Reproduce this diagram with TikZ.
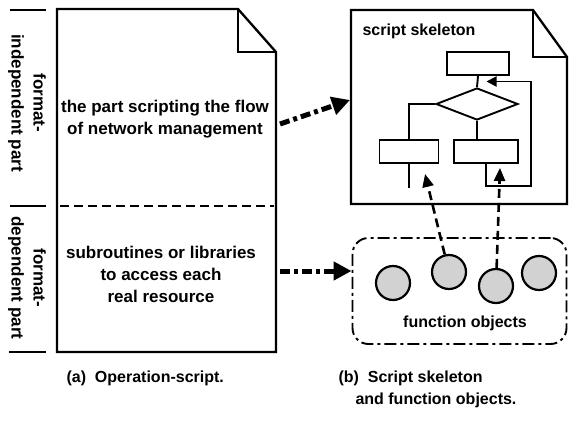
\documentclass[tikz,border=0pt]{standalone}
\usepackage{fontspec}
\setmainfont{Liberation Sans}
\usetikzlibrary{arrows.meta,shapes.geometric,calc}

\begin{document}
\begin{tikzpicture}[x=1pt,y=-1pt,font=\bfseries\fontsize{16}{21}\selectfont,
  bodytxt/.style={align=center,font=\bfseries\fontsize{17}{22}\selectfont},
  docline/.style={line width=2.3pt,line join=miter},
  flowbox/.style={draw,line width=1.9pt,minimum width=62pt,minimum height=23pt,inner sep=0pt},
  flow/.style={line width=1.9pt},
  bigarrow/.style={line width=5pt,dash pattern=on 10pt off 4pt on 4pt off 4pt,-{Triangle[length=18pt,width=18pt]}},
  objarrow/.style={line width=2.6pt,dash pattern=on 9pt off 5pt,-{Triangle[length=13pt,width=11pt]}},
  fobj/.style={circle,draw,line width=2.2pt,fill=gray!35,minimum size=34pt,inner sep=0pt}]
\path[use as bounding box] (0,0) rectangle (570,428);
\draw[line width=2pt] (10,10) -- (46,10);
\draw[line width=2pt] (10,206) -- (46,206);
\draw[line width=2pt] (9,352) -- (46,352);
\node[rotate=-90,bodytxt] (indep) at (27,103) {format-\\independent part};
\node[rotate=-90,bodytxt] (dep) at (27,278) {format-\\dependent part};
\draw[docline] (57,9) -- (238,9) -- (276,52) -- (276,352) -- (57,352) -- cycle;
\draw[docline] (238,9) -- (238,52) -- (276,52);
\draw[line width=2pt,dash pattern=on 9pt off 5pt] (60,206) -- (274,206);
\node[bodytxt] (flowtxt) at (165,119) {the part scripting the flow\\of network management};
\node[bodytxt] (subtxt) at (161,274) {subroutines or libraries\\to access each\\real resource};
\draw[docline] (351,10) -- (533,10) -- (567,57) -- (567,204) -- (351,204) -- cycle;
\draw[docline] (533,10) -- (533,57) -- (567,57);
\node[anchor=west] (sktitle) at (359,31) {script skeleton};
\node[flowbox] (first) at (478,63.5) {};
\node[diamond,draw,line width=1.9pt,aspect=2.6,minimum width=82pt,minimum height=32pt,inner sep=0pt] (cond) at (477,104) {};
\node[flowbox,minimum width=59pt] (lbox) at (409,151.5) {};
\node[flowbox,minimum width=64pt] (rbox) at (486,151.5) {};
\coordinate (join) at ($(first.south)!.5!(cond.north)$);
\coordinate (loopr) at (531,0);
\draw[flow] (first.south) -- (cond.north);
\draw[flow] (cond.west) -| (lbox.north);
\draw[flow] (cond.south) -- (cond.south |- rbox.north);
\draw[flow] (lbox.south) -- ++(0,24);
\draw[flow,-{Triangle[length=10pt,width=10pt]}] (rbox.south) -- ++(0,22) -| (loopr |- join) -- ([xshift=9pt]join);
\node[draw,rounded corners=16pt,line width=1.9pt,dash pattern=on 12pt off 4pt on 3pt off 4pt,minimum width=214pt,minimum height=106pt] (fbox) at (459.5,291) {};
\node[fobj] (o1) at (393,283) {};
\node[fobj] (o2) at (449,272) {};
\node[fobj] (o3) at (496,286) {};
\node[fobj] (o4) at (539,273) {};
\node (fotxt) at (465,323) {function objects};
\coordinate (fromflow) at (280,124);
\coordinate (toskel) at (350,100);
\coordinate (fromsub) at (280,271);
\draw[bigarrow] (fromflow) -- (toskel);
\draw[bigarrow] (fromsub) -- (fbox.west |- fromsub);
\draw[objarrow] (o2) -- ($(lbox.south)+(16,10)$);
\draw[objarrow] (o3) -- ($(rbox.south)+(14,4)$);
\node[anchor=west] (capa) at (63,378) {(a)\ \ Operation-script.};
\node[anchor=west] (capb) at (335,378) {(b)\ \ Script skeleton};
\node[anchor=west] (capb2) at (352,400) {and function objects.};
\end{tikzpicture}
\end{document}
